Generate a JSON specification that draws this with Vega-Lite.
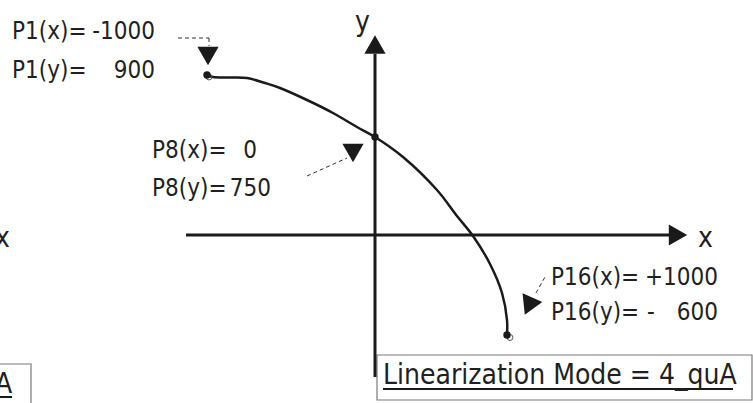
{
  "$schema": "https://vega.github.io/schema/vega-lite/v6.json",
  "width": 753,
  "height": 403,
  "padding": 0,
  "autosize": {"type": "fit", "contains": "padding"},
  "background": "white",
  "config": {"view": {"stroke": null}},
  "datasets": {
    "boxes": [
      {"x": 377, "y": 355, "x2": 752, "y2": 400},
      {"x": -10, "y": 364, "x2": 31, "y2": 420}
    ],
    "lines": [
      {"x": 375, "y": 54, "x2": 375, "y2": 377},
      {"x": 186, "y": 235, "x2": 670, "y2": 235}
    ],
    "dashes": [
      {"x": 178, "y": 38, "x2": 209, "y2": 38},
      {"x": 209, "y": 38, "x2": 209, "y2": 46},
      {"x": 307, "y": 176, "x2": 347, "y2": 158},
      {"x": 536, "y": 293, "x2": 545, "y2": 277}
    ],
    "underlines": [
      {"x": 383, "y": 389, "x2": 733, "y2": 389},
      {"x": -5, "y": 397, "x2": 12, "y2": 397}
    ],
    "curve": [
      {"i": 1, "x": 207, "y": 75},
      {"i": 2, "x": 213, "y": 77},
      {"i": 3, "x": 230, "y": 77.5},
      {"i": 4, "x": 247, "y": 78},
      {"i": 5, "x": 265, "y": 83},
      {"i": 6, "x": 280, "y": 88},
      {"i": 7, "x": 307, "y": 100},
      {"i": 8, "x": 333, "y": 113},
      {"i": 9, "x": 357, "y": 127},
      {"i": 10, "x": 375, "y": 137},
      {"i": 11, "x": 403, "y": 157},
      {"i": 12, "x": 437, "y": 190},
      {"i": 13, "x": 457, "y": 216},
      {"i": 14, "x": 473, "y": 236},
      {"i": 15, "x": 490, "y": 264},
      {"i": 16, "x": 502, "y": 293},
      {"i": 17, "x": 507, "y": 320},
      {"i": 18, "x": 507, "y": 335}
    ],
    "dots": [
      {"x": 207, "y": 75},
      {"x": 375, "y": 137},
      {"x": 507, "y": 335}
    ],
    "rings": [
      {"x": 209, "y": 77},
      {"x": 510, "y": 337.5}
    ],
    "arrows": [
      {"x": 208, "y": 56, "dir": "down"},
      {"x": 353, "y": 153, "dir": "down"},
      {"x": 375, "y": 44.5, "dir": "up"},
      {"x": 678, "y": 235, "dir": "right"}
    ],
    "tilted": [
      {"x": 533, "y": 303, "dir": "right"}
    ],
    "names": [
      {"x": 12, "y": 39, "t": "P1(x)="},
      {"x": 12, "y": 77.5, "t": "P1(y)="},
      {"x": 152, "y": 158, "t": "P8(x)="},
      {"x": 152, "y": 196, "t": "P8(y)="},
      {"x": 551, "y": 285, "t": "P16(x)="},
      {"x": 551, "y": 320, "t": "P16(y)="},
      {"x": 647, "y": 320, "t": "-"}
    ],
    "values": [
      {"x": 155, "y": 39, "t": "-1000"},
      {"x": 155, "y": 77.5, "t": "900"},
      {"x": 257, "y": 158, "t": "0"},
      {"x": 271, "y": 196, "t": "750"},
      {"x": 718, "y": 285, "t": "+1000"},
      {"x": 718, "y": 320, "t": "600"}
    ],
    "bigtext": [
      {"x": 383, "y": 384, "t": "Linearization Mode = 4_quA"},
      {"x": -5, "y": 393, "t": "A"},
      {"x": 355, "y": 31, "t": "y"},
      {"x": 698, "y": 247, "t": "x"},
      {"x": -5, "y": 247, "t": "x"}
    ]
  },
  "encoding": {
    "x": {"field": "x", "type": "quantitative", "axis": null, "scale": {"domain": [0, 753], "nice": false, "zero": false}},
    "y": {"field": "y", "type": "quantitative", "axis": null, "scale": {"domain": [0, 403], "nice": false, "zero": false, "reverse": true}}
  },
  "layer": [
    {
      "data": {"name": "boxes"},
      "mark": {"type": "rect", "fill": "white", "stroke": "#7a7a7a", "strokeWidth": 1.2, "clip": true},
      "encoding": {"x2": {"field": "x2"}, "y2": {"field": "y2"}}
    },
    {
      "data": {"name": "lines"},
      "mark": {"type": "rule", "stroke": "#1a1a1a", "strokeWidth": 3},
      "encoding": {"x2": {"field": "x2"}, "y2": {"field": "y2"}}
    },
    {
      "data": {"name": "dashes"},
      "mark": {"type": "rule", "stroke": "#333333", "strokeWidth": 1, "strokeDash": [4, 3]},
      "encoding": {"x2": {"field": "x2"}, "y2": {"field": "y2"}}
    },
    {
      "data": {"name": "underlines"},
      "mark": {"type": "rule", "stroke": "#1a1a1a", "strokeWidth": 2, "clip": true},
      "encoding": {"x2": {"field": "x2"}, "y2": {"field": "y2"}}
    },
    {
      "data": {"name": "curve"},
      "mark": {"type": "line", "stroke": "#1a1a1a", "strokeWidth": 2.5, "interpolate": "catmull-rom"},
      "encoding": {"order": {"field": "i", "type": "quantitative"}}
    },
    {
      "data": {"name": "rings"},
      "mark": {"type": "point", "shape": "circle", "filled": false, "stroke": "#555555", "strokeWidth": 1, "size": 35, "opacity": 1},
      "encoding": {}
    },
    {
      "data": {"name": "dots"},
      "mark": {"type": "point", "shape": "circle", "filled": true, "fill": "#1a1a1a", "size": 55, "opacity": 1},
      "encoding": {}
    },
    {
      "data": {"name": "arrows"},
      "mark": {"type": "point", "filled": true, "fill": "#1a1a1a", "size": 450, "opacity": 1},
      "encoding": {
        "shape": {"field": "dir", "type": "nominal", "legend": null, "scale": {"domain": ["down", "up", "right"], "range": ["triangle-down", "triangle-up", "triangle-right"]}}
      }
    },
    {
      "data": {"name": "tilted"},
      "mark": {"type": "point", "shape": "triangle-right", "filled": true, "fill": "#1a1a1a", "size": 470, "opacity": 1, "angle": -6},
      "encoding": {}
    },
    {
      "data": {"name": "names"},
      "mark": {"type": "text", "align": "left", "baseline": "alphabetic", "font": "DejaVu Sans Condensed, sans-serif", "fontSize": 24, "fill": "#231f20"},
      "encoding": {"text": {"field": "t", "type": "nominal"}}
    },
    {
      "data": {"name": "values"},
      "mark": {"type": "text", "align": "right", "baseline": "alphabetic", "font": "DejaVu Sans Condensed, sans-serif", "fontSize": 24, "fill": "#231f20"},
      "encoding": {"text": {"field": "t", "type": "nominal"}}
    },
    {
      "data": {"name": "bigtext"},
      "mark": {"type": "text", "align": "left", "baseline": "alphabetic", "font": "DejaVu Sans Condensed, sans-serif", "fontSize": 28, "fill": "#231f20", "clip": true},
      "encoding": {"text": {"field": "t", "type": "nominal"}}
    }
  ]
}
